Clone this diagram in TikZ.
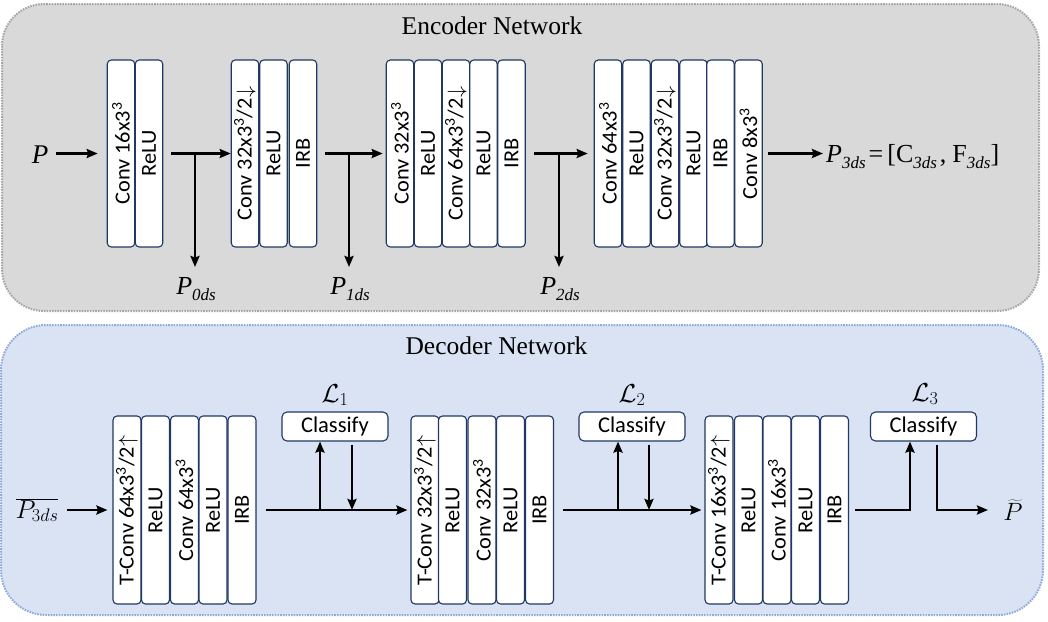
\documentclass[tikz,border=0pt]{standalone}
\usepackage{fix-cm}
\usepackage{fontspec}
\setmainfont{Liberation Serif}
\newfontfamily\boxfont{Carlito}
\usetikzlibrary{arrows.meta}
\definecolor{encfill}{HTML}{D9D9D9}
\definecolor{encline}{HTML}{A6A6A6}
\definecolor{decfill}{HTML}{DAE3F3}
\definecolor{decline}{HTML}{8FAADC}
\definecolor{boxc}{HTML}{203864}
\newcommand\bt[1]{\rotatebox{90}{\scalebox{1.04}[1]{\fontsize{21.5}{25}\selectfont\boxfont #1}}}
\newcommand\cub{\textsuperscript{3}}
\newcommand\dnarr{\kern0.5pt$\downarrow$}
\newcommand\uparr{\kern0.5pt$\uparrow$}
\newcommand\tsub[2]{{\fontsize{26}{30}\selectfont\textit{#1}}\raisebox{-6pt}{\fontsize{17}{20}\selectfont\textit{#2}}}
\newcommand\usub[2]{{\fontsize{26}{30}\selectfont #1}\raisebox{-6pt}{\fontsize{17}{20}\selectfont\textit{#2}}}
\tikzset{
  eb/.style={draw=boxc, fill=white, line width=1.1pt, rounded corners=4pt, minimum width=27.5pt, minimum height=187pt, inner sep=0pt},
  db/.style={draw=boxc, fill=white, line width=1.1pt, rounded corners=4pt, minimum width=28pt, minimum height=188pt, inner sep=0pt},
  cls/.style={draw=boxc, fill=white, line width=1.1pt, rounded corners=5pt, minimum width=106pt, minimum height=29pt, inner sep=0pt, font=\fontsize{22.5}{26}\selectfont\boxfont},
  arr/.style={line width=2.4pt, -{Stealth[length=11pt,width=9pt,inset=1.5pt]}},
  lbl/.style={inner sep=0pt, anchor=base},
  encpanel/.style={fill=encfill, draw=encline, line width=2pt, dash pattern=on 1.6pt off 1.1pt, rounded corners=42pt},
  decpanel/.style={fill=decfill, draw=decline, line width=2pt, dash pattern=on 1.6pt off 1.1pt, rounded corners=45pt},
}
\begin{document}
\begin{tikzpicture}[x=1pt,y=-1pt]
\useasboundingbox (0,0) rectangle (1048,621);
% panels
\draw[encpanel] (2,4) rectangle (1039,311);
\draw[decpanel] (1,325) rectangle (1043,615);
\node[lbl, font=\fontsize{25.5}{30}\selectfont] (et) at (492,34) {Encoder Network};
\node[lbl, font=\fontsize{25.5}{30}\selectfont] (dt) at (496.5,354) {Decoder Network};

% encoder blocks
\node[eb] (e1a) at (121,153.5) {\bt{Conv 16x3\cub}};
\node[eb] (e1b) at (149,153.5) {\bt{ReLU}};
\node[eb] (e2a) at (245,153.5) {\bt{Conv 32x3\cub/2\dnarr}};
\node[eb] (e2b) at (273.5,153.5) {\bt{ReLU}};
\node[eb] (e2c) at (303,153.5) {\bt{IRB}};
\node[eb] (e3a) at (400,153.5) {\bt{Conv 32x3\cub}};
\node[eb] (e3b) at (428,153.5) {\bt{ReLU}};
\node[eb] (e3c) at (456,153.5) {\bt{Conv 64x3\cub/2\dnarr}};
\node[eb] (e3d) at (483.5,153.5) {\bt{ReLU}};
\node[eb] (e3e) at (511.5,153.5) {\bt{IRB}};
\node[eb] (e4a) at (608,153.5) {\bt{Conv 64x3\cub}};
\node[eb] (e4b) at (636.5,153.5) {\bt{ReLU}};
\node[eb] (e4c) at (665,153.5) {\bt{Conv 32x3\cub/2\dnarr}};
\node[eb] (e4d) at (693.5,153.5) {\bt{ReLU}};
\node[eb] (e4e) at (720.5,153.5) {\bt{IRB}};
\node[eb] (e4f) at (748.5,153.5) {\bt{Conv 8x3\cub}};

% encoder labels
\node[lbl] (Pin) at (40,163) {{\fontsize{27}{30}\selectfont\textit{P}}};
\node[lbl] (P0) at (196,294) {\tsub{P}{0ds}};
\node[lbl] (P1) at (350,294) {\tsub{P}{1ds}};
\node[lbl] (P2) at (560,294) {\tsub{P}{2ds}};
\node[inner sep=0pt, anchor=base west] (P3) at (826,162) {\tsub{P}{3ds}\hspace{3pt}{\fontsize{26}{30}\selectfont=\hspace{4pt}[}\usub{C}{3ds}\hspace{3pt}{\fontsize{26}{30}\selectfont,}\hspace{6pt}\usub{F}{3ds}{\fontsize{26}{30}\selectfont]}};

% encoder connectors
\draw[arr, shorten <=8pt, shorten >=9pt] (Pin.east |- e1a.west) -- (e1a.west);
\draw[arr, shorten <=8pt] (e1b.east) -- (e2a.west);
\draw[arr, shorten <=8pt, shorten >=3pt] (e2c.east) -- (e3a.west);
\draw[arr, shorten <=8pt, shorten >=6pt] (e3e.east) -- (e4a.west);
\draw[arr, shorten <=5pt, shorten >=3pt] (e4f.east) -- (P3.west |- e4f.east);
\coordinate (j0) at (195,153.5); \coordinate (t0) at (195,267);
\coordinate (j1) at (349,153.5); \coordinate (t1) at (349,267);
\coordinate (j2) at (559,153.5); \coordinate (t2) at (559,267);
\draw[arr] (j0) -- (t0);
\draw[arr] (j1) -- (t1);
\draw[arr] (j2) -- (t2);

% decoder blocks
\node[db] (d1a) at (127,510) {\bt{T-Conv 64x3\cub/2\uparr}};
\node[db] (d1b) at (155.5,510) {\bt{ReLU}};
\node[db] (d1c) at (184.5,510) {\bt{Conv 64x3\cub}};
\node[db] (d1d) at (213,510) {\bt{ReLU}};
\node[db] (d1e) at (242,510) {\bt{IRB}};
\node[db] (d2a) at (425,510) {\bt{T-Conv 32x3\cub/2\uparr}};
\node[db] (d2b) at (452.5,510) {\bt{ReLU}};
\node[db] (d2c) at (482,510) {\bt{Conv 32x3\cub}};
\node[db] (d2d) at (510.5,510) {\bt{ReLU}};
\node[db] (d2e) at (539.5,510) {\bt{IRB}};
\node[db] (d3a) at (719,510) {\bt{T-Conv 16x3\cub/2\uparr}};
\node[db] (d3b) at (748.5,510) {\bt{ReLU}};
\node[db] (d3c) at (777,510) {\bt{Conv 16x3\cub}};
\node[db] (d3d) at (805.5,510) {\bt{ReLU}};
\node[db] (d3e) at (834.5,510) {\bt{IRB}};

% classify
\node[cls] (c1) at (335,426.5) {Classify};
\node[cls] (c2) at (632,426.5) {Classify};
\node[cls] (c3) at (923.5,426.5) {Classify};
\node[lbl, font=\fontsize{26}{30}\selectfont] (L1) at (335,402) {$\mathcal{L}_1$};
\node[lbl, font=\fontsize{26}{30}\selectfont] (L2) at (632,402) {$\mathcal{L}_2$};
\node[lbl, font=\fontsize{26}{30}\selectfont] (L3) at (925,401) {$\mathcal{L}_3$};

% decoder labels
\node[lbl, font=\fontsize{26}{30}\selectfont] (Pb) at (37,518) {$\overline{P_{3ds}}$};
\node[lbl, font=\fontsize{25}{28}\selectfont] (Pt) at (1013,520) {$\widetilde{P}$};

% decoder connectors
\draw[arr, shorten <=8pt, shorten >=5pt] (Pb.east |- d1a.west) -- (d1a.west);
\draw[arr, shorten <=9pt, shorten >=3pt] (d1e.east) -- (d2a.west);
\draw[arr, shorten <=9pt, shorten >=3pt] (d2e.east) -- (d3a.west);
\coordinate (u1) at (320,510); \coordinate (v1) at (352,510);
\coordinate (u2) at (618,510); \coordinate (v2) at (649,510);
\coordinate (u3) at (910,510); \coordinate (v3) at (937,510);
\coordinate (pe) at (988,510);
\draw[arr] (u1) -- (u1 |- c1.south);
\draw[arr, shorten <=3pt] (v1 |- c1.south) -- (v1);
\draw[arr] (u2) -- (u2 |- c2.south);
\draw[arr, shorten <=3pt] (v2 |- c2.south) -- (v2);
\draw[arr, shorten <=6pt] (d3e.east) -| (u3 |- c3.south);
\draw[arr, shorten <=3pt] (v3 |- c3.south) |- (pe);
\end{tikzpicture}
\end{document}
